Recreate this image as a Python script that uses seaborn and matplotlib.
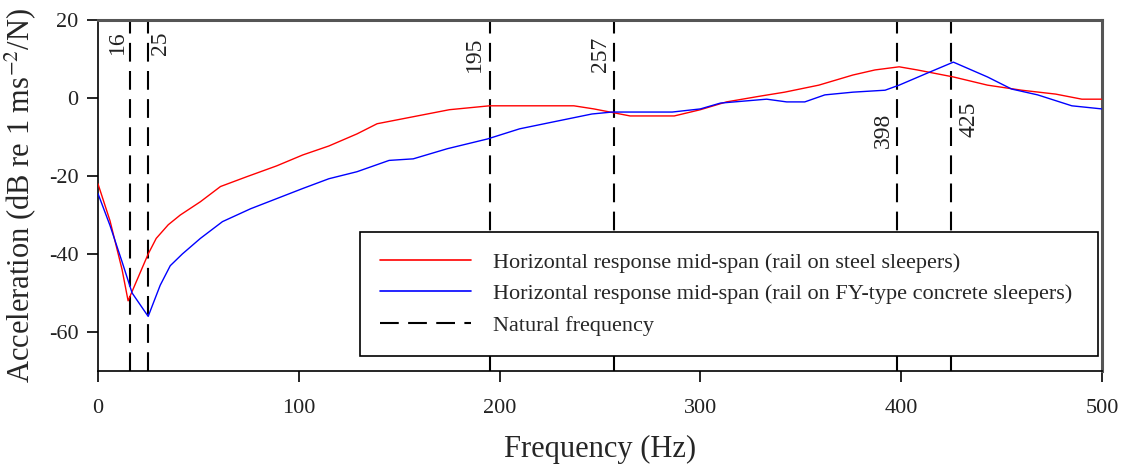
import matplotlib
matplotlib.use("Agg")
import matplotlib.pyplot as plt
from matplotlib.lines import Line2D
import seaborn as sns
import pandas as pd

# Horizontal mid-span response, rail on steel sleepers
freq_steel = [0, 6, 12, 15, 20, 25, 29, 35, 41, 51, 61, 74, 89, 102, 115, 129, 139,
              150, 160, 175, 195, 215, 237, 247, 257, 265, 287, 300, 313, 330, 342,
              359, 376, 387, 399, 408, 426, 443, 460, 477, 490, 500]
acc_steel = [-22, -31.5, -44, -52, -46, -40, -36, -32.5, -30, -26.6, -22.7, -20.2,
             -17.4, -14.6, -12.3, -9.2, -6.6, -5.5, -4.5, -3, -2, -2, -2, -2.8, -3.8,
             -4.6, -4.6, -3, -1, 0.5, 1.5, 3.3, 5.9, 7.2, 8, 7.2, 5.4, 3.3, 2, 1,
             -0.3, -0.3]

# Horizontal mid-span response, rail on FY-type concrete sleepers
freq_concrete = [0, 6, 12, 17, 25, 31, 36, 42, 51, 62, 76, 89, 102, 115, 129, 145,
                 157, 174, 194, 210, 227, 246, 256, 286, 300, 310, 333, 343, 352, 362,
                 376, 392, 399, 414, 426, 443, 455, 468, 485, 500]
acc_concrete = [-24.5, -32.7, -42, -50, -56, -48, -43, -40, -36, -31.7, -28.4, -25.8,
                -23.2, -20.7, -18.9, -16, -15.6, -13, -10.5, -7.9, -6.1, -4.1, -3.6,
                -3.6, -2.8, -1.3, -0.3, -1, -1, 0.8, 1.5, 2, 3.3, 6.6, 9.2, 5.4, 2.3,
                0.8, -2, -2.8]

# Natural frequencies (Hz) marked by dashed lines
nat_freqs = [16, 25, 195, 257, 398, 425]
nat_label_y = [14.3, 14, 11.2, 11.2, -8.2, -5.4]
nat_label_dx = [-13, 12, -15, -14, -14, 18]

label_steel = "Horizontal response mid-span (rail on steel sleepers)"
label_concrete = "Horizontal response mid-span (rail on FY-type concrete sleepers)"
label_nat = "Natural frequency"

sns.set_theme(style="ticks")
plt.rcParams["font.family"] = ["Liberation Serif", "DejaVu Serif"]
plt.rcParams["mathtext.fontset"] = "stix"
plt.rcParams["axes.unicode_minus"] = False

fig = plt.figure(figsize=(11.21, 4.72), dpi=100)
ax = fig.add_axes([0.0874, 0.214, 0.8956, 0.7436])

df_steel = pd.DataFrame({"f": freq_steel, "a": acc_steel})
df_conc = pd.DataFrame({"f": freq_concrete, "a": acc_concrete})

dash = (9, 4.5)
for f, yl, dx in zip(nat_freqs, nat_label_y, nat_label_dx):
    ax.axvline(f, color="black", lw=1.5, dashes=dash, zorder=1)
    ax.annotate(str(f), xy=(f, yl), xytext=(dx, 0), textcoords="offset pixels",
                rotation=90, ha="center", va="center", fontsize=17, color="#222222")

sns.lineplot(data=df_steel, x="f", y="a", color="#ff0000", lw=1.0, ax=ax, zorder=3)
sns.lineplot(data=df_conc, x="f", y="a", color="#0000ff", lw=1.0, ax=ax, zorder=3)

ax.set_xlim(0, 500)
ax.set_ylim(-70, 20)
ax.set_xticks([0, 100, 200, 300, 400, 500])
ax.set_yticks([20, 0, -20, -40, -60])
ax.tick_params(axis="both", direction="out", length=8, width=1.2, color="black",
               labelsize=16, labelcolor="#222222")
ax.tick_params(axis="x", pad=12)
ax.tick_params(axis="y", pad=6)

ax.set_xlabel("Frequency (Hz)", fontsize=22, labelpad=12)
ax.set_ylabel("Acceleration (dB re 1 ms$^{-2}$/N)", fontsize=22, labelpad=8)

for side in ("left", "bottom"):
    ax.spines[side].set_color("black")
    ax.spines[side].set_linewidth(1.2)
for side in ("top", "right"):
    ax.spines[side].set_color("#555555")
    ax.spines[side].set_linewidth(2.2)

handles = [
    Line2D([], [], color="#ff0000", lw=1.2),
    Line2D([], [], color="#0000ff", lw=1.2),
    Line2D([], [], color="black", lw=1.5, dashes=dash),
]
leg = ax.legend(handles, [label_steel, label_concrete, label_nat],
                loc="upper left", bbox_to_anchor=(0.261, 0.054, 0.735, 0.342),
                mode="expand", fontsize=16, frameon=True, fancybox=False,
                framealpha=1.0, facecolor="white",
                edgecolor="black", handlelength=4.1, handletextpad=1.0,
                labelspacing=0.5, borderpad=0.9, borderaxespad=0)
leg.get_frame().set_linewidth(1.2)
leg.set_zorder(5)

fig.savefig("out.png", dpi=100)
